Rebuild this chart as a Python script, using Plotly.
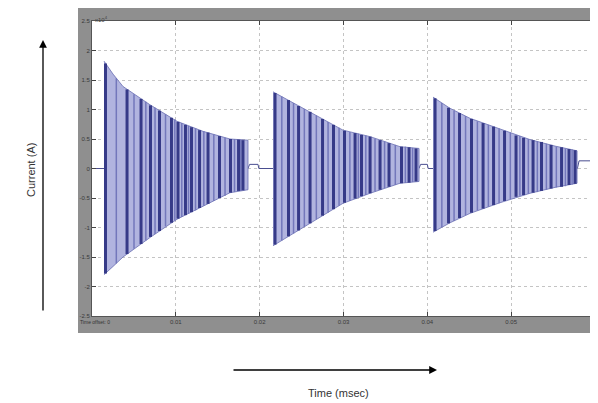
import plotly.graph_objects as go

# ---------------- data (current in units of 1e4 A, time in s) ----------------
# burst envelopes
b1_t = [0.00143, 0.00251, 0.00370, 0.00692, 0.01014, 0.01324, 0.01646, 0.01861]
b1_up = [1.82, 1.60, 1.39, 1.08, 0.80, 0.63, 0.50, 0.48]
b1_lo = [-1.80, -1.66, -1.50, -1.17, -0.86, -0.64, -0.41, -0.36]

b2_t = [0.02159, 0.02338, 0.02601, 0.02994, 0.03317, 0.03674, 0.03901]
b2_up = [1.30, 1.16, 0.96, 0.65, 0.54, 0.37, 0.34]
b2_lo = [-1.31, -1.16, -0.93, -0.59, -0.42, -0.25, -0.22]

b3_t = [0.04068, 0.04271, 0.04510, 0.04867, 0.05225, 0.05523, 0.05786]
b3_up = [1.21, 1.02, 0.85, 0.67, 0.49, 0.38, 0.30]
b3_lo = [-1.08, -0.92, -0.76, -0.58, -0.42, -0.32, -0.25]

# dark stripes inside each burst
s1_t = [0.00161, 0.00418, 0.00585, 0.00698, 0.00805, 0.00948, 0.01026, 0.01115,
        0.01187, 0.01283, 0.01384, 0.01521, 0.01652, 0.01748, 0.01801]
s1_up = [1.78, 1.34, 1.18, 1.07, 0.98, 0.86, 0.79, 0.74, 0.70, 0.65, 0.61, 0.55, 0.50, 0.49, 0.48]
s1_lo = [-1.78, -1.45, -1.28, -1.16, -1.06, -0.92, -0.85, -0.79, -0.74, -0.67, -0.60, -0.50, -0.41, -0.38, -0.37]

s2_t = [0.02183, 0.02344, 0.02464, 0.02601, 0.02750, 0.02881, 0.03012, 0.03138,
        0.03215, 0.03317, 0.03436, 0.03543, 0.03692, 0.03782, 0.03865]
s2_up = [1.28, 1.16, 1.06, 0.96, 0.84, 0.74, 0.64, 0.60, 0.57, 0.54, 0.48, 0.43, 0.37, 0.36, 0.34]
s2_lo = [-1.29, -1.15, -1.05, -0.93, -0.80, -0.69, -0.58, -0.51, -0.47, -0.42, -0.36, -0.31, -0.25, -0.24, -0.22]

s3_t = [0.04092, 0.04253, 0.04384, 0.04527, 0.04665, 0.04790, 0.04921, 0.05058,
        0.05148, 0.05261, 0.05362, 0.05476, 0.05601, 0.05690, 0.05762]
s3_up = [1.19, 1.03, 0.94, 0.84, 0.77, 0.71, 0.64, 0.56, 0.52, 0.48, 0.45, 0.40, 0.36, 0.33, 0.31]
s3_lo = [-1.06, -0.93, -0.84, -0.75, -0.68, -0.62, -0.55, -0.48, -0.45, -0.41, -0.38, -0.34, -0.31, -0.28, -0.26]

# medium-shade stripes between the dark ones
m1_t = [0.00290, 0.00501, 0.00642, 0.00752, 0.00877, 0.00988, 0.01071,
        0.01151, 0.01235, 0.01334, 0.01453, 0.01587, 0.01700, 0.01775]
m1_up = [1.53, 1.26, 1.13, 1.03, 0.92, 0.83, 0.77, 0.72, 0.68, 0.63, 0.58, 0.52, 0.50, 0.49]
m1_lo = [-1.61, -1.36, -1.22, -1.11, -0.98, -0.88, -0.82, -0.77, -0.71, -0.63, -0.55, -0.46, -0.40, -0.38]

m2_t = [0.02264, 0.02404, 0.02533, 0.02676, 0.02816, 0.02947, 0.03076,
        0.03177, 0.03266, 0.03376, 0.03490, 0.03618, 0.03738, 0.03824]
m2_up = [1.22, 1.11, 1.01, 0.90, 0.79, 0.69, 0.62, 0.59, 0.56, 0.51, 0.46, 0.40, 0.37, 0.35]
m2_lo = [-1.22, -1.10, -0.99, -0.86, -0.75, -0.63, -0.55, -0.49, -0.45, -0.39, -0.33, -0.28, -0.245, -0.23]

m3_t = [0.04173, 0.04319, 0.04456, 0.04597, 0.04728, 0.04856, 0.04990,
        0.05104, 0.05205, 0.05312, 0.05420, 0.05539, 0.05647, 0.05727]
m3_up = [1.11, 0.98, 0.89, 0.80, 0.74, 0.68, 0.61, 0.55, 0.50, 0.46, 0.42, 0.37, 0.34, 0.32]
m3_lo = [-0.99, -0.89, -0.79, -0.71, -0.65, -0.59, -0.52, -0.46, -0.43, -0.40, -0.36, -0.32, -0.30, -0.27]

# baseline between bursts
base_t = [0, 0.0014, 0.0186, 0.0188, 0.0198, 0.0199, 0.0216, 0.0390, 0.0392, 0.0400,
          0.0401, 0.0407, 0.0579, 0.0581, 0.0600]
base_v = [0, 0, 0, 0.07, 0.07, 0, 0, 0, 0.07, 0.07, 0, 0, 0, 0.13, 0.13]

x_ticks = [0, 0.01, 0.02, 0.03, 0.04, 0.05, 0.06]
x_ticklabels = ["", "0.01", "0.02", "0.03", "0.04", "0.05", "0.06"]
y_ticks = [2.5, 2, 1.5, 1, 0.5, 0, -0.5, -1, -1.5, -2, -2.5]
y_ticklabels = ["2.5", "2", "1.5", "1", "0.5", "0", "-0.5", "-1", "-1.5", "-2", "-2.5"]

LIGHT = "#b1b4df"
MEDIUM = "#7377bb"
DARK = "#363a88"
EDGE = "#6a6eb2"


def segments(ts, ups, los):
    xs, ys = [], []
    for t, u, l in zip(ts, ups, los):
        xs += [t, t, None]
        ys += [l, u, None]
    return xs, ys


fig = go.Figure()

fig.add_trace(go.Scatter(x=base_t, y=base_v, mode="lines",
                         line=dict(color="#4a4e90", width=1), hoverinfo="skip"))

for bt, bu, bl in [(b1_t, b1_up, b1_lo), (b2_t, b2_up, b2_lo), (b3_t, b3_up, b3_lo)]:
    fig.add_trace(go.Scatter(x=bt + bt[::-1], y=bu + bl[::-1], fill="toself",
                             fillcolor=LIGHT, mode="lines",
                             line=dict(color=EDGE, width=0.8), hoverinfo="skip"))

for st, su, sl in [(m1_t, m1_up, m1_lo), (m2_t, m2_up, m2_lo), (m3_t, m3_up, m3_lo)]:
    xs, ys = segments(st, su, sl)
    fig.add_trace(go.Scatter(x=xs, y=ys, mode="lines",
                             line=dict(color=MEDIUM, width=1.5), hoverinfo="skip"))

for st, su, sl in [(s1_t, s1_up, s1_lo), (s2_t, s2_up, s2_lo), (s3_t, s3_up, s3_lo)]:
    xs, ys = segments(st, su, sl)
    fig.add_trace(go.Scatter(x=xs, y=ys, mode="lines",
                             line=dict(color=DARK, width=3), hoverinfo="skip"))

# the page body has an 8px margin: the figure is offset so that positions
# below (given in window pixels) land where they should
OFF = 8
W, H = 590, 395
L, T = 92 - OFF, 21 - OFF
pw, ph = 503, 295
R, B = W - L - pw, H - T - ph


def px(x):
    return (x - 92) / pw


def py(y):
    return (316 - y) / ph


fig.update_layout(
    width=W, height=H, showlegend=False,
    margin=dict(l=L, r=R, t=T, b=B),
    paper_bgcolor="white", plot_bgcolor="white",
    font=dict(family="Liberation Sans", color="#333"),
    xaxis=dict(range=[0, 0.06], tickvals=x_ticks, ticktext=x_ticklabels,
               showgrid=True, gridcolor="#c4c4c4", griddash="dot", gridwidth=1,
               zeroline=False, showline=True, linecolor="#555", mirror="ticks",
               ticks="inside", ticklen=4, tickcolor="#444",
               tickfont=dict(size=6, color="#3a3a3a")),
    yaxis=dict(range=[-2.5, 2.5], tickvals=y_ticks, ticktext=y_ticklabels,
               showgrid=True, gridcolor="#c4c4c4", griddash="dot", gridwidth=1,
               zeroline=False, showline=True, linecolor="#555", mirror="ticks",
               ticks="inside", ticklen=4, tickcolor="#444",
               tickfont=dict(size=6, color="#3a3a3a")),
    shapes=[
        dict(type="rect", xref="paper", yref="paper", layer="below",
             x0=px(78), x1=px(600), y0=py(333), y1=py(8),
             fillcolor="#8f8f8f", line=dict(width=0)),
        dict(type="rect", xref="paper", yref="paper", layer="below",
             x0=0, x1=1, y0=0, y1=1, fillcolor="white", line=dict(width=0)),
    ],
    annotations=[
        dict(xref="paper", yref="paper", x=px(43), y=py(40), ax=0, ay=272,
             text="", showarrow=True, arrowhead=2, arrowsize=1.2, arrowwidth=1.3,
             arrowcolor="black"),
        dict(xref="paper", yref="paper", x=px(437), y=py(370), ax=-205, ay=0,
             text="", showarrow=True, arrowhead=2, arrowsize=1.2, arrowwidth=1.3,
             arrowcolor="black"),
        dict(xref="paper", yref="paper", x=px(23), y=py(170), text="Current (A)",
             textangle=-90, showarrow=False, font=dict(size=11, color="#333")),
        dict(xref="paper", yref="paper", x=px(338), y=py(401), text="Time (msec)",
             showarrow=False, font=dict(size=11, color="#333")),
        dict(xref="paper", yref="paper", x=px(93), y=py(13), text="x10<sup>4</sup>",
             xanchor="left", showarrow=False, font=dict(size=6, color="#444")),
        dict(xref="paper", yref="paper", x=px(78), y=py(327), text="Time offset: 0",
             xanchor="left", showarrow=False, font=dict(size=5, color="#333")),
    ],
)

fig.write_html("out.html")
